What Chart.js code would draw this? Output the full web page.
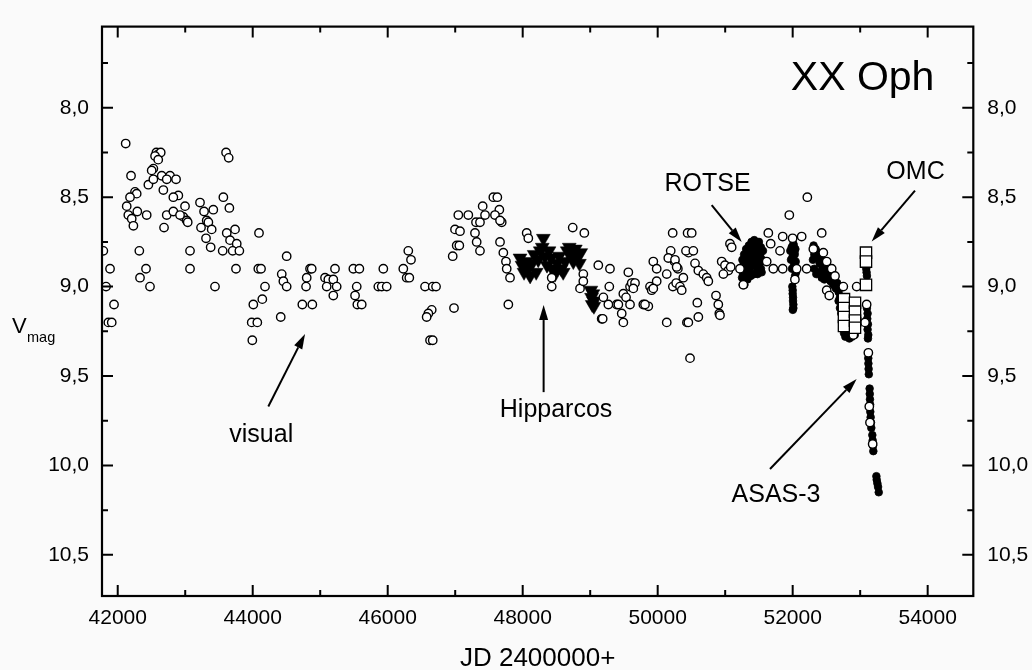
<!DOCTYPE html>
<html><head><meta charset="utf-8">
<script src="https://cdn.jsdelivr.net/npm/chart.js@4.4.1/dist/chart.umd.min.js"></script>
<style>html,body{margin:0;padding:0;background:#fafafa;}canvas{display:block;}</style>
</head><body>
<canvas id="c" width="1032" height="670"></canvas>
<script>
// ---- data: [JD-2400000, V magnitude] ----
const visualPts = [
[41787,8.80],[41886,8.90],[41827,9.00],[41945,9.10],[41861,9.20],[41911,9.20],
[42118,8.20],[42197,8.38],[42573,8.25],[42600,8.26],[42637,8.25],[42553,8.27],[42600,8.29],
[42528,8.34],[42503,8.35],[42454,8.43],[42528,8.40],[42652,8.38],[42775,8.38],[42864,8.40],
[42726,8.40],[42676,8.46],[42256,8.47],[42281,8.48],[42182,8.50],[42133,8.55],[42290,8.58],
[42157,8.60],[42207,8.62],[42232,8.66],[42429,8.60],[42686,8.67],[42726,8.60],[42824,8.58],
[42898,8.49],[42824,8.50],[42997,8.55],[42972,8.61],[43022,8.63],[43037,8.64],[42923,8.60],
[43219,8.53],[43279,8.58],[43416,8.57],[43318,8.63],[43343,8.64],[43234,8.67],[43392,8.68],
[43308,8.73],[43377,8.78],[43605,8.25],[43644,8.28],[43565,8.50],[43654,8.56],[43738,8.68],
[43615,8.70],[43664,8.74],[43763,8.76],[43555,8.80],[43703,8.80],[43802,8.80],[43752,8.90],
[44093,8.70],[44503,8.83],[42320,8.80],[42419,8.90],[42330,8.95],[42478,9.00],[43071,8.80],
[43071,8.90],[43441,9.00],[44083,8.90],[44123,8.90],[44182,9.00],[44142,9.07],[44009,9.10],
[43985,9.20],[44068,9.20],[43994,9.30],[44430,8.93],[44454,8.97],[44503,9.00],[44415,9.17],
[44790,9.00],[44735,9.10],[44883,9.10],[44849,8.90],[44874,8.90],[44800,8.95],
[45071,8.95],[45120,8.96],[45194,8.96],[45096,9.00],[45244,9.00],[45194,9.05],[45219,8.90],
[45491,8.90],[45580,8.90],[45541,9.00],[45516,9.05],[45550,9.10],[45615,9.10],[45861,9.00],
[45911,9.00],[45985,9.00],[45935,8.90],[46231,8.90],[46305,8.80],[46345,8.85],[46281,8.95],
[46320,8.95],[46553,9.00],[46667,9.00],[46716,9.00],[46652,9.13],[46602,9.15],[46577,9.17],
[46627,9.30],[46667,9.30],[46982,9.12],[46963,8.83],[47022,8.77],[47061,8.77],[46997,8.68],
[47071,8.69],[47046,8.60],[47194,8.60],[47308,8.64],[47367,8.64],[47293,8.70],[47318,8.75],
[47367,8.80],[47407,8.55],[47442,8.60],[47565,8.50],[47624,8.50],[47654,8.57],[47589,8.60],
[47689,8.64],[47664,8.75],[47713,8.81],[47752,8.86],[47763,8.90],[47812,8.95],[47787,9.10],
[48059,8.70],[48083,8.73],[48741,8.67],[48913,8.70],[48430,9.00],[48430,8.95],[49120,8.88],
[49293,8.90],[48898,8.93],[48849,9.01],[48898,8.97],[49283,9.00],[49170,9.18],[49393,9.10],
[47664,8.63],[49565,8.92],[49639,8.98],[49590,9.00],[49491,9.04],[49531,9.06],[49269,9.10],
[49417,9.10],[49590,9.10],[49787,9.10],[49861,9.11],[49467,9.15],[49491,9.20],[49185,9.18],
[50250,8.86],[50299,8.90],[50225,9.00],[50274,8.98],[50433,9.20],[50457,8.81],[50443,8.70],
[50222,8.70],[50504,8.70],[50193,8.80],[50419,8.80],[50528,8.80],[50157,8.84],[50256,8.85],
[50281,8.89],[49935,8.86],[49985,8.90],[50134,8.93],[49886,9.00],[49911,9.02],[49985,8.97],
[50134,9.20],[50479,9.40],[50553,8.87],[50602,8.91],[50676,8.93],[50726,8.95],[50750,8.97],
[50330,9.00],[50380,8.95],[50356,9.02],[50587,9.09],[50602,9.17],[50454,9.20],[50864,9.05],
[50898,9.10],[50913,9.15],[50923,9.16],[50948,8.86],[50997,8.88],[51047,8.91],[50973,8.93],
[51071,8.76],[51096,8.78],[51081,8.89],[51219,8.90],[51269,8.99],
[52217,8.50],[51950,8.60],[52430,8.70],[51639,8.70],[51852,8.72],[51999,8.73],[52133,8.72],
[51674,8.76],[51812,8.80],[51615,8.86],[51713,8.90],[51852,8.90],[52059,8.90],[52033,8.96],
[52207,8.90],[52306,8.79],[52454,8.81],[52504,8.86],[52578,8.90],[52627,8.94],[52504,9.02],
[52542,9.05],[52750,9.00],[52948,9.00],[53096,9.10],[53121,9.37],[49615,8.98],[49664,8.98],
[49639,9.01],[49195,9.06],[49812,9.10],[49935,9.01],[53071,9.20],[53135,9.67],[53145,9.76],
[53185,9.88],[52899,9.27]
];
const hipparcosPts = [
[47960,8.84],[47990,8.88],[48020,8.92],[48050,8.86],[48080,8.90],[48110,8.94],[48140,8.87],
[48170,8.82],[48200,8.92],[48230,8.85],[48260,8.80],[48290,8.78],[48306,8.73],[48330,8.83],
[48360,8.88],[48390,8.80],[48420,8.84],[48450,8.90],[48480,8.93],[48510,8.87],[48540,8.83],
[48570,8.90],[48600,8.92],[48630,8.86],[48660,8.80],[48690,8.78],[48720,8.82],[48750,8.86],
[48780,8.79],[48810,8.83],[48840,8.87],[48860,8.81],
[49010,9.02],[49020,9.06],[49030,9.10],[49040,9.04],[49050,9.08],[49055,9.11]
];
const rotsePts = [
[51250,8.95],[51250,8.90],[51255,8.85],[51260,8.99],[51265,8.93],[51270,8.88],[51280,8.82],
[51290,8.95],[51300,8.90],[51305,8.85],[51310,8.79],[51320,8.92],[51330,8.87],[51340,8.82],
[51350,8.77],[51360,8.90],[51370,8.85],[51380,8.80],[51390,8.75],[51400,8.88],[51410,8.83],
[51420,8.78],[51430,8.74],[51440,8.86],[51450,8.81],[51460,8.76],[51470,8.90],[51480,8.84],
[51490,8.79],[51500,8.75],[51510,8.87],[51520,8.82],[51530,8.78],[51540,8.92],[51550,8.85],
[51560,8.80],[51285,8.99],[51330,8.96],[51380,8.94],[51430,8.93],[51480,8.93],[51530,8.90]
];
const asasPts = [
[51965,8.80],[51975,8.85],[51985,8.78],[51990,8.90],[52000,8.83],[52010,8.76],[52020,8.88],
[52025,8.81],[52035,8.94],[52040,8.79],[52045,8.86],[52050,8.92],[52030,8.82],[52015,8.77],
[51995,9.00],[52000,9.04],[52005,9.08],[52010,9.12],[52000,9.02],[52005,9.06],[52010,9.10],
[52002,9.13],
[52310,8.77],[52320,8.82],[52340,8.79],[52360,8.84],[52380,8.81],[52400,8.87],[52420,8.83],
[52440,8.89],[52460,8.86],[52480,8.92],[52500,8.88],[52520,8.94],[52540,8.91],[52560,8.97],
[52580,8.93],[52600,8.99],[52620,8.96],[52640,9.01],[52660,8.98],[52680,9.03],[52700,9.06],
[52680,9.08],[52700,9.12],[52300,8.85],[52320,8.90],[52350,8.93],[52390,8.92],[52430,8.95],
[52470,8.96],
[52720,9.15],[52740,9.22],[52760,9.26],[52780,9.28],[52800,9.25],[52820,9.27],[52840,9.29],
[52860,9.26],[52880,9.28],[52900,9.24],[52920,9.27],[52940,9.22],[52960,9.18],
[53090,8.90],[53100,8.94],[53095,8.92],[53100,9.12],[53110,9.15],[53105,9.18],[53115,9.21],
[53110,9.24],[53120,9.27],[53115,9.29],
[53120,9.40],[53122,9.43],[53125,9.46],[53128,9.49],[53140,9.57],[53142,9.60],[53145,9.63],
[53148,9.66],[53150,9.70],[53155,9.73],[53160,9.76],[53165,9.79],[53180,9.83],[53185,9.86],
[53190,9.89],[53195,9.92],[53240,10.06],[53245,10.08],[53255,10.10],[53265,10.12],[53275,10.15]
];
const omcPts = [
[53086,8.81],[53086,8.86],[53086,8.99],
[52760,9.07],[52760,9.12],[52760,9.17],[52760,9.22],
[52923,9.09],[52923,9.14],[52923,9.19],[52923,9.23]
];
// ---- axis ticks ----
const xMajor = [42000,44000,46000,48000,50000,52000,54000];
const xMinor = [43000,45000,47000,49000,51000,53000];
const yMajor = [8.0,8.5,9.0,9.5,10.0,10.5];
const yMinor = [7.75,8.25,8.75,9.25,9.75,10.25];
const xRange = [41767, 54676];
const yRange = [7.546, 10.73];
// ---- annotations (data units) ----
const labels = [
  {text:'XX Oph', x:53036, y:7.903, size:41},
  {text:'OMC', x:53820, y:8.40, size:25},
  {text:'ROTSE', x:50738, y:8.465, size:25},
  {text:'Hipparcos', x:48494, y:9.73, size:25},
  {text:'visual', x:44126, y:9.87, size:25},
  {text:'ASAS-3', x:51753, y:10.205, size:25}
];
const arrows = [
  [44231,9.67,44775,9.265],
  [48310,9.59,48310,9.103],
  [50800,8.544,51245,8.75],
  [53812,8.463,53170,8.748],
  [51664,10.02,52948,9.517]
];

const FONT = '"Liberation Sans", Arial, Helvetica, sans-serif';
const toXY = pts => pts.map(p => ({x:p[0], y:p[1]}));

const framePlugin = {
  id:'framePlugin',
  beforeDraw(chart){
    const c = chart.ctx; c.save(); c.fillStyle='#fafafa'; c.fillRect(0,0,chart.width,chart.height); c.restore();
  },
  afterDatasetsDraw(chart){
    const c = chart.ctx, a = chart.chartArea, xs = chart.scales.x, ys = chart.scales.y;
    c.save();
    c.strokeStyle = '#000'; c.fillStyle = '#000';
    c.lineWidth = 2;
    c.beginPath();
    const tick = (vals, len, horiz) => vals.forEach(v => {
      if (horiz) { const p = xs.getPixelForValue(v);
        c.moveTo(p, a.bottom); c.lineTo(p, a.bottom - len); c.moveTo(p, a.top); c.lineTo(p, a.top + len);
      } else { const p = ys.getPixelForValue(v);
        c.moveTo(a.left, p); c.lineTo(a.left + len, p); c.moveTo(a.right, p); c.lineTo(a.right - len, p);
      }
    });
    tick(xMajor, 11, true); tick(xMinor, 6, true); tick(yMajor, 11, false); tick(yMinor, 6, false);
    c.stroke();
    c.lineWidth = 2.2;
    c.strokeRect(a.left, a.top, a.right - a.left, a.bottom - a.top);
    // arrows
    arrows.forEach(ar => {
      const x1 = xs.getPixelForValue(ar[0]), y1 = ys.getPixelForValue(ar[1]);
      const x2 = xs.getPixelForValue(ar[2]), y2 = ys.getPixelForValue(ar[3]);
      const ang = Math.atan2(y2 - y1, x2 - x1), L = 15, W = 4.5;
      const bx = x2 - L * Math.cos(ang), by = y2 - L * Math.sin(ang);
      c.lineWidth = 2;
      c.beginPath(); c.moveTo(x1, y1); c.lineTo(bx, by); c.stroke();
      c.beginPath(); c.moveTo(x2, y2);
      c.lineTo(bx + W * Math.sin(ang), by - W * Math.cos(ang));
      c.lineTo(bx - W * Math.sin(ang), by + W * Math.cos(ang));
      c.closePath(); c.fill();
    });
    // labels
    c.textAlign = 'center'; c.textBaseline = 'alphabetic';
    labels.forEach(l => {
      c.font = l.size + 'px ' + FONT;
      c.fillText(l.text, xs.getPixelForValue(l.x), ys.getPixelForValue(l.y));
    });
    // axis titles
    c.font = '26px ' + FONT;
    c.fillText('JD 2400000+', (a.left + a.right) / 2, 666);
    c.textAlign = 'left';
    c.font = '22px ' + FONT;
    c.fillText('V', 12, 333);
    c.font = '14.5px ' + FONT;
    c.fillText('mag', 27, 342);
    c.restore();
  }
};

const yTickCb = v => Number(v).toFixed(1).replace('.', ',');
const setTicks = arr => (s => { s.ticks = arr.map(v => ({value:v})); });

new Chart(document.getElementById('c'), {
  type:'scatter',
  data:{datasets:[
    {label:'OMC', data:toXY(omcPts), pointStyle:'rect', pointRadius:8, borderWidth:1.3,
     borderColor:'#000', backgroundColor:'#fff', clip:0},
    {label:'visual', data:toXY(visualPts), pointStyle:'circle', pointRadius:4.2, borderWidth:1.4,
     borderColor:'#000', backgroundColor:'#fff', clip:0},
    {label:'Hipparcos', data:toXY(hipparcosPts), pointStyle:'triangle', pointRotation:180, pointRadius:8,
     borderWidth:0.5, borderColor:'#000', backgroundColor:'#000', clip:0},
    {label:'ROTSE', data:toXY(rotsePts), pointStyle:'circle', pointRadius:3.8, borderWidth:0.8,
     borderColor:'#000', backgroundColor:'#000', clip:0},
    {label:'ASAS-3', data:toXY(asasPts), pointStyle:'circle', pointRadius:3.8, borderWidth:0.8,
     borderColor:'#000', backgroundColor:'#000', clip:0}
  ]},
  options:{
    responsive:false, animation:false, events:[], devicePixelRatio:1,
    layout:{padding:{top:7, left:0, right:0, bottom:0}},
    plugins:{legend:{display:false}, tooltip:{enabled:false}, title:{display:false}},
    scales:{
      x:{type:'linear', position:'bottom', min:xRange[0], max:xRange[1],
         afterBuildTicks:setTicks(xMajor), afterFit:s => { s.height = 74; },
         grid:{display:false, drawTicks:false}, border:{display:false},
         ticks:{padding:10, color:'#000', font:{family:FONT, size:21}, maxRotation:0, autoSkip:false,
                callback:v => String(v)}},
      y:{type:'linear', position:'left', reverse:true, min:yRange[0], max:yRange[1],
         afterBuildTicks:setTicks(yMajor), afterFit:s => { s.width = 102; },
         grid:{display:false, drawTicks:false}, border:{display:false},
         ticks:{padding:13, color:'#000', font:{family:FONT, size:21}, autoSkip:false, callback:yTickCb}},
      y2:{type:'linear', position:'right', reverse:true, min:yRange[0], max:yRange[1],
         afterBuildTicks:setTicks(yMajor), afterFit:s => { s.width = 58.7; },
         grid:{display:false, drawTicks:false}, border:{display:false},
         ticks:{padding:14, color:'#000', font:{family:FONT, size:21}, autoSkip:false, callback:yTickCb}}
    }
  },
  plugins:[framePlugin]
});
</script>
</body></html>
